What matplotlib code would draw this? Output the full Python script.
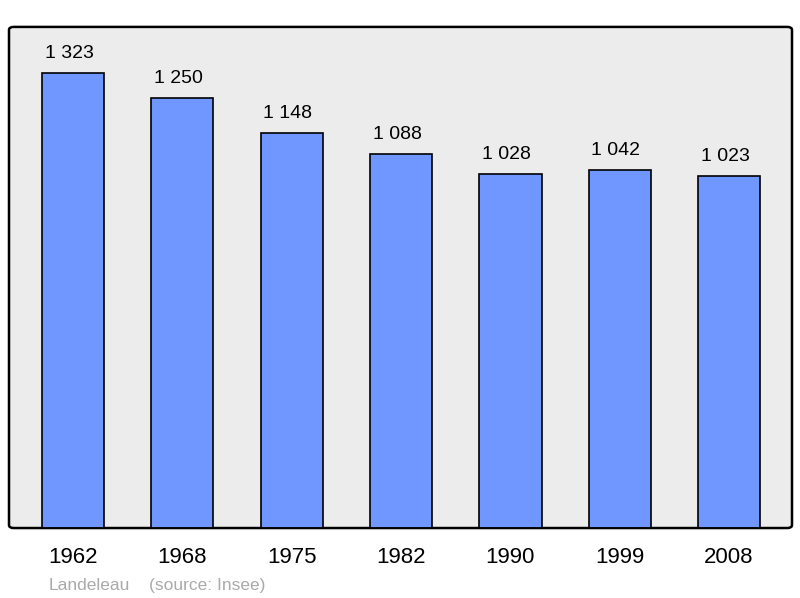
import matplotlib.pyplot as plt
from matplotlib.patches import FancyBboxPatch

plt.rcParams['font.family'] = ['Liberation Sans', 'DejaVu Sans']

# data
years = ['1962', '1968', '1975', '1982', '1990', '1999', '2008']
population = [1323, 1250, 1148, 1088, 1028, 1042, 1023]
labels = ['1 323', '1 250', '1 148', '1 088', '1 028', '1 042', '1 023']

fig = plt.figure(figsize=(8, 5.98), dpi=100)
ax = fig.add_axes([0.01125, 0.117, 0.97875, 0.838])
ax.set_facecolor('none')

# rounded frame instead of plain spines
frame = FancyBboxPatch((0, 0), 1, 1, boxstyle='round,pad=0,rounding_size=0.006',
                       transform=ax.transAxes, facecolor='#ececec', edgecolor='black',
                       linewidth=1.8, zorder=0, clip_on=False)
ax.add_patch(frame)
for s in ax.spines.values():
    s.set_visible(False)

x = range(len(years))
ax.bar(x, population, width=0.57, color='#7096ff', edgecolor='black', linewidth=1.2, zorder=2)

# value labels sit a little left of the bar centre, as in the original
for i, (v, lab) in enumerate(zip(population, labels)):
    ax.annotate(lab, (i, v), xytext=(-2.8, 8), textcoords='offset points',
                ha='center', va='bottom', fontsize=14)

ax.set_xlim(-0.585, 6.575)
ax.set_ylim(0, 1457)
ax.set_yticks([])
ax.set_xticks(list(x))
ax.set_xticklabels(years, fontsize=16)
ax.tick_params(axis='x', length=0, pad=14)

# redraw the bottom edge above the bars
ax.axhline(0, color='black', linewidth=1.8, zorder=3)

fig.text(0.061, 0.014, 'Landeleau', color='#aaaaaa', fontsize=12.5)
fig.text(0.186, 0.014, '(source: Insee)', color='#aaaaaa', fontsize=12.5)

fig.savefig('out.png', dpi=100)
